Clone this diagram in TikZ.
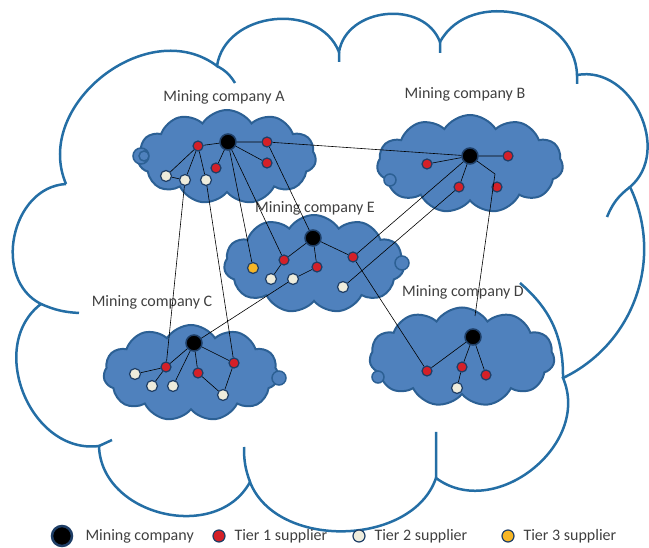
\documentclass[tikz,border=0pt]{standalone}
\usepackage{fontspec}
\setmainfont{Carlito}
\usetikzlibrary{shapes.symbols}
\definecolor{cloudblue}{RGB}{79,129,189}
\definecolor{cloudedge}{RGB}{44,96,148}
\definecolor{outeredge}{RGB}{36,110,165}
\definecolor{ringblue}{RGB}{30,62,102}
\definecolor{tierred}{RGB}{212,32,40}
\definecolor{tierwhite}{RGB}{238,236,220}
\definecolor{tieryellow}{RGB}{246,182,38}
\definecolor{labelgray}{RGB}{64,64,64}
\tikzset{
	bigcloud/.style={draw=outeredge,line width=2.5pt},%
	bump/.style={bend left=75,looseness=1.15},%
	stub/.style={draw=outeredge,line width=2.5pt},%
	firmcloud/.style={cloud,cloud puffs=11,cloud puff arc=115,aspect=1.9,fill=cloudblue,draw=cloudedge,line width=2pt,inner sep=0pt},%
	swirl/.style={draw=cloudedge,line width=1.5pt,fill=cloudblue},%
	firm/.style={circle,fill=black,draw=ringblue,line width=1.5pt,minimum size=16pt,inner sep=0pt},%
	tierone/.style={circle,fill=tierred,draw=ringblue,line width=1.2pt,minimum size=10pt,inner sep=0pt},%
	tiertwo/.style={tierone,fill=tierwhite,minimum size=11pt},%
	tierthree/.style={tierone,fill=tieryellow,minimum size=11pt},%
	link/.style={black,line width=0.6pt},%
	firmlabel/.style={text=labelgray,font=\fontsize{16}{18}\selectfont},%
}

\begin{document}
\begin{tikzpicture}[x=1pt,y=-1pt]
		\useasboundingbox (0,0) rectangle (649,548);
		% Outer cloud {{{
		\coordinate (k1) at (66,184);
		\coordinate (k2) at (217,66);
		\coordinate (k3) at (339,52);
		\coordinate (k4) at (440,42);
		\coordinate (k5) at (577,75);
		\coordinate (k6) at (630,187);
		\coordinate (k7) at (563,378);
		\coordinate (k8) at (436,478);
		\coordinate (k9) at (250,482);
		\coordinate (k10) at (99,446);
		\coordinate (k11) at (41,304);
		\draw[bigcloud] (k1) to[bump] (k2) to[bump] (k3) to[bump] (k4) to[bump] (k5)
			to[bump] (k6) to[bend left=45] (k7) to[bump] (k8) to[bend left=70] (k9)
			to[bump] (k10) to[bump] (k11) to[bump] (k1);
		\draw[stub] (k2) to[bend left=15] (235,83) (k6) to[bend right=15] (607,217)
			(k7) to[bend right=25] (520,283) (k8) -- (436,432) (k9) to[bend left=10] (244,447)
			(k10) -- (112,440) (k11) to[bend right=10] (79,313)
			(k3) -- (339,62) (k4) -- (440,53) (k5) -- (577,84);
		% }}}
		% Company clouds {{{
		\node[firmcloud,minimum width=178pt,minimum height=94pt] (cloudA) at (227,157) {};
		\node[firmcloud,minimum width=186pt,minimum height=98pt] (cloudB) at (470,164) {};
		\node[firmcloud,minimum width=180pt,minimum height=98pt] (cloudE) at (314,264) {};
		\node[firmcloud,minimum width=175pt,minimum height=96pt] (cloudC) at (191,373) {};
		\node[firmcloud,minimum width=185pt,minimum height=99pt] (cloudD) at (462,357) {};
		\draw[swirl] (141,156) circle (8) (144,156) circle (5);
		\draw[swirl] (390,180) circle (6);
		\draw[swirl] (402,263) circle (7);
		\draw[swirl] (279,378) circle (7);
		\draw[swirl] (378,377) circle (6);
		\node[firmlabel] (labA) at (224,97) {Mining company A};
		\node[firmlabel] (labB) at (465,94) {Mining company B};
		\node[firmlabel] (labE) at (315,208) {Mining company E};
		\node[firmlabel] (labC) at (152,302) {Mining company C};
		\node[firmlabel] (labD) at (463,292) {Mining company D};
		% }}}
		% Firms and suppliers {{{
		\node[firm] (Aco) at (228,142) {};
		\node[tierone] (a1) at (198,146) {};
		\node[tierone] (a2) at (267,142) {};
		\node[tierone] (a3) at (216,168) {};
		\node[tierone] (a4) at (267,163) {};
		\node[tiertwo] (aw1) at (166,176) {};
		\node[tiertwo] (aw2) at (185,180) {};
		\node[tiertwo] (aw3) at (206,180) {};
		\node[firm] (Bco) at (470,156) {};
		\node[tierone] (b1) at (427,164) {};
		\node[tierone] (b2) at (508,156) {};
		\node[tierone] (b3) at (459,187) {};
		\node[tierone] (b4) at (497,187) {};
		\node[firm] (Eco) at (313,238) {};
		\node[tierthree] (ey) at (253,268) {};
		\node[tierone] (e1) at (284,260) {};
		\node[tierone] (e2) at (317,267) {};
		\node[tierone] (e3) at (353,257) {};
		\node[tiertwo] (ew1) at (271,279) {};
		\node[tiertwo] (ew2) at (293,279) {};
		\node[tiertwo] (ew3) at (343,287) {};
		\node[firm] (Cco) at (194,343) {};
		\node[tierone] (c1) at (166,367) {};
		\node[tierone] (c2) at (198,373) {};
		\node[tierone] (c3) at (234,363) {};
		\node[tiertwo] (cw1) at (135,374) {};
		\node[tiertwo] (cw2) at (152,386) {};
		\node[tiertwo] (cw3) at (173,386) {};
		\node[tiertwo] (cw4) at (223,395) {};
		\node[firm] (Dco) at (473,337) {};
		\node[tierone] (d1) at (427,371) {};
		\node[tierone] (d2) at (462,367) {};
		\node[tierone] (d3) at (486,375) {};
		\node[tiertwo] (dw1) at (457,388) {};
		\coordinate (bD) at (495,174);
		\coordinate (dD) at (475,316);
		% }}}
		% Links {{{
		\draw[link] (Aco) -- (a1) (Aco) -- (a2) (Aco) -- (a3) (Aco) -- (a4)
			(a1) -- (aw1) (a1) -- (aw2) (a1) -- (aw3) (aw1) -- (aw2);
		\draw[link] (Bco) -- (b1) (Bco) -- (b2) (Bco) -- (b3) (Bco) -- (bD);
		\draw[link] (Eco) -- (e1) (Eco) -- (e2) (Eco) -- (e3) (e1) -- (ew1) (e2) -- (ew2);
		\draw[link] (Cco) -- (c1) (Cco) -- (c2) (Cco) -- (c3) (Cco) -- (cw3)
			(c1) -- (cw1) (c1) -- (cw2) (c2) -- (cw4) (c3) -- (cw4);
		\draw[link] (Dco) -- (d1) (Dco) -- (d2) (Dco) -- (d3) (d2) -- (dw1);
		\draw[link] (a2) -- (Bco) (a2) -- (Eco) (Aco) -- (ey) (Aco) -- (e1)
			(aw2) -- (c1) (aw3) -- (c3) (Bco) -- (e3) (b3) -- (ew3)
			(bD) -- (dD) (ew2) -- (Cco) (e3) -- (d1);
		% }}}
		% Legend {{{
		\node[firm,minimum size=20pt,line width=2.5pt] (keyfirm) at (62,536) {};
		\node[firmlabel,anchor=west] (keyfirmtext) at (82,536) {Mining company};
		\node[tierone,minimum size=12pt] (keyone) at (219,536) {};
		\node[firmlabel,anchor=west] (keyonetext) at (231,536) {Tier 1 supplier};
		\node[tiertwo,minimum size=12pt] (keytwo) at (359,536) {};
		\node[firmlabel,anchor=west] (keytwotext) at (371,536) {Tier 2 supplier};
		\node[tierthree,minimum size=12pt] (keythree) at (508,536) {};
		\node[firmlabel,anchor=west] (keythreetext) at (520,536) {Tier 3 supplier};
		% }}}
	\end{tikzpicture}
\end{document}
